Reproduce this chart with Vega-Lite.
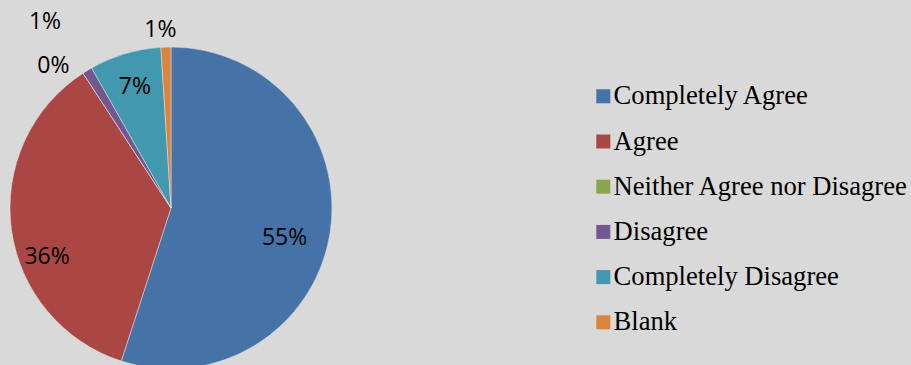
{
  "$schema": "https://vega.github.io/schema/vega-lite/v6.json",
  "width": 342,
  "height": 416,
  "autosize": {"type": "none"},
  "padding": {"left": 0, "top": 0, "right": 569, "bottom": 0},
  "background": "#d9d9d9",
  "config": {"view": {"stroke": null}},
  "data": {
    "values": [
      {"category": "Completely Agree", "share": 0.55},
      {"category": "Agree", "share": 0.358},
      {"category": "Neither Agree nor Disagree", "share": 0.0},
      {"category": "Disagree", "share": 0.01},
      {"category": "Completely Disagree", "share": 0.072},
      {"category": "Blank", "share": 0.01}
    ]
  },
  "transform": [
    {"window": [{"op": "row_number", "as": "idx"}]}
  ],
  "encoding": {
    "theta": {"field": "share", "type": "quantitative", "stack": true},
    "order": {"field": "idx", "type": "quantitative", "sort": "ascending"}
  },
  "layer": [
    {
      "mark": {"type": "arc", "radius": 161, "stroke": "#e6e6e6", "strokeWidth": 0.5},
      "encoding": {
        "color": {
          "field": "category",
          "type": "nominal",
          "sort": ["Completely Agree", "Agree", "Neither Agree nor Disagree", "Disagree", "Completely Disagree", "Blank"],
          "scale": {
            "domain": ["Completely Agree", "Agree", "Neither Agree nor Disagree", "Disagree", "Completely Disagree", "Blank"],
            "range": ["#4572A7", "#AA4643", "#89A54E", "#71588F", "#4198AF", "#DB843D"]
          },
          "legend": {
            "title": null,
            "orient": "none",
            "legendX": 590,
            "legendY": 83,
            "padding": 0,
            "symbolType": "square",
            "symbolSize": 196,
            "symbolStrokeWidth": 0,
            "labelFont": "Liberation Serif, Times New Roman, serif",
            "labelFontSize": 26.6,
            "labelColor": "#000000",
            "labelOffset": -3,
            "labelLimit": 400,
            "rowPadding": 18.2
          }
        }
      }
    },
    {
      "mark": {"type": "text", "font": "Open Sans", "fontSize": 23, "color": "#000000", "baseline": "middle", "align": "center", "radius": 115, "dy": 12},
      "encoding": {
        "text": {"condition": {"test": "datum.category === 'Completely Agree'", "field": "share", "type": "quantitative", "format": ".0%"}, "value": ""}
      }
    },
    {
      "mark": {"type": "text", "font": "Open Sans", "fontSize": 23, "color": "#000000", "baseline": "middle", "align": "center", "radius": 125, "dy": 33},
      "encoding": {
        "text": {"condition": {"test": "datum.category === 'Agree'", "field": "share", "type": "quantitative", "format": ".0%"}, "value": ""}
      }
    },
    {
      "mark": {"type": "text", "font": "Open Sans", "fontSize": 23, "color": "#000000", "baseline": "middle", "align": "center", "radius": 175, "dx": -22, "dy": 5},
      "encoding": {
        "text": {"condition": {"test": "datum.category === 'Neither Agree nor Disagree'", "field": "share", "type": "quantitative", "format": ".0%"}, "value": ""}
      }
    },
    {
      "mark": {"type": "text", "font": "Open Sans", "fontSize": 23, "color": "#000000", "baseline": "middle", "align": "center", "radius": 225, "dx": -9, "dy": 6},
      "encoding": {
        "text": {"condition": {"test": "datum.category === 'Disagree'", "field": "share", "type": "quantitative", "format": ".0%"}, "value": ""}
      }
    },
    {
      "mark": {"type": "text", "font": "Open Sans", "fontSize": 23, "color": "#000000", "baseline": "middle", "align": "center", "radius": 127, "dy": 1},
      "encoding": {
        "text": {"condition": {"test": "datum.category === 'Completely Disagree'", "field": "share", "type": "quantitative", "format": ".0%"}, "value": ""}
      }
    },
    {
      "mark": {"type": "text", "font": "Open Sans", "fontSize": 23, "color": "#000000", "baseline": "middle", "align": "center", "radius": 180, "dx": -5, "dy": 2},
      "encoding": {
        "text": {"condition": {"test": "datum.category === 'Blank'", "field": "share", "type": "quantitative", "format": ".0%"}, "value": ""}
      }
    }
  ]
}
